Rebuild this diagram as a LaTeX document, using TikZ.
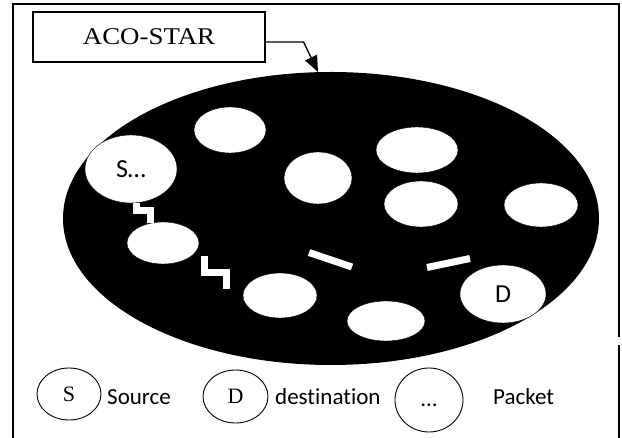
\documentclass[tikz,border=0pt]{standalone}
\usepackage{fontspec}
\setmainfont{Liberation Serif}
\newfontfamily\calib[Ligatures=NoCommon]{Carlito}
\usetikzlibrary{arrows.meta, positioning, shapes.geometric}

\tikzset{
  hole/.style={ellipse, draw=black, fill=white, inner sep=0pt, font=\calib\fontsize{26}{29}\selectfont},
  zig/.style={white, line width=7pt},
  legmark/.style={ellipse, draw, line width=0.9pt, inner sep=0pt, font=\fontsize{22}{26}\selectfont},
  legtext/.style={inner sep=0pt, anchor=base west, font=\calib\fontsize{23}{26}\selectfont}
}

\begin{document}
\begin{tikzpicture}[x=1pt, y=-1pt, >=Stealth]
\useasboundingbox (0,0) rectangle (622,438);

% Frame
\draw[line width=1.3pt] (13,440) -- (13,4) -- (619,4) -- (619,337);
\draw[line width=1.3pt] (619,345) -- (619,440);

% Network (black)
\node[ellipse, fill=black, inner sep=0pt, minimum width=536, minimum height=293] (net) at (331,218.5) {};

% Title box
\node[draw, line width=1.2pt, minimum width=232, minimum height=50, font=\fontsize{24}{28}\selectfont] (aco) at (149,37) {\scalebox{1.12}[1]{ACO-STAR}};
\coordinate (tip) at (318,72);
\draw[line width=1.3pt, -{Triangle[length=16pt,width=13pt]}] ([yshift=-5pt]aco.east) -- ++(38,0) -- (tip);

% Nodes (white)
\node[hole, minimum width=92, minimum height=68] (src) at (131,169) {S\ldots};
\node[hole, minimum width=72, minimum height=42] (n2) at (163,243) {};
\node[hole, minimum width=72, minimum height=46] (n3) at (230,130) {};
\node[hole, minimum width=68, minimum height=52] (n4) at (318,178) {};
\node[hole, minimum width=82, minimum height=46] (n5) at (417,150) {};
\node[hole, minimum width=74, minimum height=46] (n6) at (421,204) {};
\node[hole, minimum width=74, minimum height=44] (n7) at (541,205) {};
\node[hole, minimum width=74, minimum height=45] (n8) at (280,295.5) {};
\node[hole, minimum width=78, minimum height=40] (n9) at (386,321) {};
\node[hole, minimum width=86, minimum height=58] (dst) at (503,294) {D};

% Links
\draw[zig] (src.-80) -- ++(0,7.5) -| (n2.121);
\draw[zig] (204,256) |- (226,273) -- (226,289);
\draw[zig] (309,252.5) -- (352,267);
\draw[zig] (427,267.5) -- (470,258.5);

% Legend
\node[legmark, minimum width=64, minimum height=52] (smark) at (69,394) {S};
\node[legtext] (stext) at (107,405) {Source};
\node[legmark, minimum width=65, minimum height=53] (dmark) at (235.5,396.5) {D};
\node[legtext] (dtext) at (275,405) {destinat\kern0pt ion};
\node[legmark, minimum width=68, minimum height=64] (pmark) at (429,400) {};
\node[font=\calib\fontsize{23}{26}\selectfont, inner sep=0pt, anchor=base] (dots) at (pmark.center |- 0,407) {\ldots};
\node[legtext] (ptext) at (493,405) {Packet};

\end{tikzpicture}
\end{document}
